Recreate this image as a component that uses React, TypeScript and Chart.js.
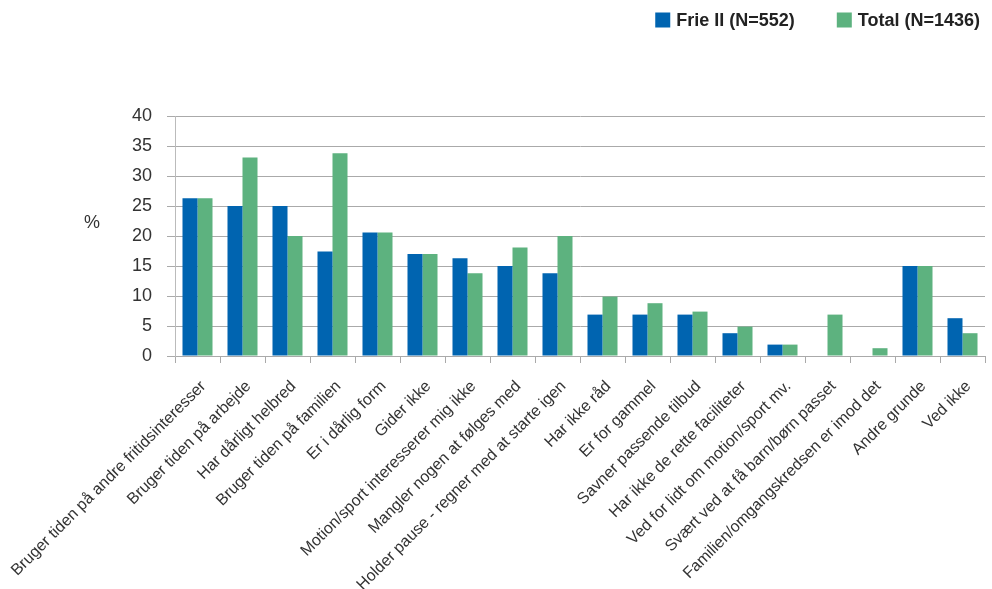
import React, { useEffect, useRef } from "react";
import { Chart, registerables } from "chart.js";

Chart.register(...registerables);

const categories = [
  "Bruger tiden på andre fritidsinteresser",
  "Bruger tiden på arbejde",
  "Har dårligt helbred",
  "Bruger tiden på familien",
  "Er i dårlig form",
  "Gider ikke",
  "Motion/sport interesserer mig ikke",
  "Mangler nogen at følges med",
  "Holder pause - regner med at starte igen",
  "Har ikke råd",
  "Er for gammel",
  "Savner passende tilbud",
  "Har ikke de rette faciliteter",
  "Ved for lidt om motion/sport mv.",
  "Svært ved at få barn/børn passet",
  "Familien/omgangskredsen er imod det",
  "Andre grunde",
  "Ved ikke",
];

const frieValues = [26.3, 25, 25, 17.4, 20.6, 17, 16.3, 15, 13.8, 6.9, 6.9, 6.9, 3.8, 1.9, 0, 0, 15, 6.3];
const totalValues = [26.3, 33.1, 20, 33.8, 20.6, 17, 13.8, 18.1, 20, 9.9, 8.8, 7.4, 4.9, 1.9, 6.9, 1.3, 15, 3.8];

const seriesNames = ["Frie II (N=552)", "Total (N=1436)"];
const seriesColors = ["#0064b0", "#5db27f"];
const yTicks = [0, 5, 10, 15, 20, 25, 30, 35, 40];
const yAxisTitle = "%";

const FONT = "'Liberation Sans', Arial, Helvetica, sans-serif";

export default function App() {
  const ref = useRef<HTMLCanvasElement | null>(null);

  useEffect(() => {
    if (!ref.current) return;
    const customLegend = {
      id: "customLegend",
      afterDraw(chart: any) {
        const ctx = chart.ctx;
        ctx.save();
        ctx.font = `bold 18px ${FONT}`;
        ctx.textBaseline = "middle";
        ctx.textAlign = "left";
        const cy = 20;
        let right = 980;
        const items = chart.data.datasets.map((d: any) => ({ label: d.label, color: d.backgroundColor }));
        for (let i = items.length - 1; i >= 0; i--) {
          const w = ctx.measureText(items[i].label).width;
          const textX = right - w;
          const boxX = textX - 6 - 15;
          ctx.fillStyle = items[i].color;
          ctx.fillRect(boxX, cy - 7.5, 15, 15);
          ctx.fillStyle = "#222";
          ctx.fillText(items[i].label, textX, cy + 1);
          right = boxX - 42;
        }
        ctx.restore();
      },
    };
    const pctLabel = {
      id: "pctLabel",
      afterDraw(chart: any) {
        const ctx = chart.ctx;
        const y = chart.scales.y;
        ctx.save();
        ctx.font = `18px ${FONT}`;
        ctx.fillStyle = "#333";
        ctx.textAlign = "center";
        ctx.textBaseline = "middle";
        ctx.fillText(yAxisTitle, 92, y.getPixelForValue(22.2));
        ctx.restore();
      },
    };
    const chart = new Chart(ref.current, {
      type: "bar",
      data: {
        labels: categories,
        datasets: [
          {
            label: seriesNames[0],
            data: frieValues,
            backgroundColor: seriesColors[0],
            categoryPercentage: 0.667,
            barPercentage: 1,
          },
          {
            label: seriesNames[1],
            data: totalValues,
            backgroundColor: seriesColors[1],
            categoryPercentage: 0.667,
            barPercentage: 1,
          },
        ],
      },
      options: {
        animation: false,
        responsive: true,
        maintainAspectRatio: false,
        layout: { padding: { left: 125, right: 7, top: 116, bottom: 0 } },
        plugins: {
          legend: { display: false },
          tooltip: { enabled: false },
        },
        scales: {
          x: {
            grid: {
              display: true,
              drawOnChartArea: false,
              drawTicks: true,
              tickLength: 7,
              color: "#aaa",
              offset: true,
            },
            border: { color: "#aaa", width: 1 },
            ticks: {
              minRotation: 45,
              maxRotation: 45,
              autoSkip: false,
              padding: 14,
              labelOffset: 6,
              color: "#333",
              font: { family: FONT, size: 16 },
            },
            afterFit(scale: any) {
              scale.height = 233;
              scale.paddingLeft = 0;
              scale.paddingRight = 0;
            },
          },
          y: {
            min: 0,
            max: 40,
            afterBuildTicks(scale: any) {
              scale.ticks = yTicks.map((v) => ({ value: v }));
            },
            afterFit(scale: any) {
              scale.width = 50;
            },
            grid: {
              color: "#aaa",
              lineWidth: 1,
              tickLength: 8,
            },
            border: { color: "#bbb", width: 1 },
            ticks: {
              padding: 15,
              color: "#333",
              font: { family: FONT, size: 18 },
            },
          },
        },
      },
      plugins: [customLegend, pctLabel],
    } as any);
    return () => chart.destroy();
  }, []);

  return (
    <div style={{ position: "fixed", left: 0, top: 0, width: 992, height: 589, background: "#fff" }}>
      <canvas ref={ref} />
    </div>
  );
}
